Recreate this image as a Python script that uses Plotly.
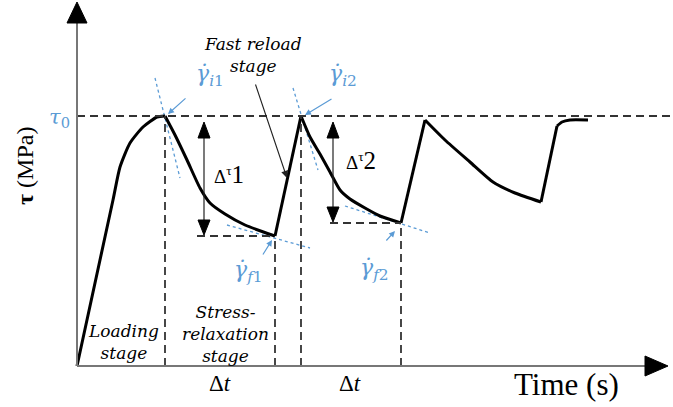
import plotly.graph_objects as go

# Schematic stress-time history: loading, stress relaxation, fast reload cycles
time = [0, 36, 43, 53, 66, 80, 88,
        98, 110, 123, 133, 148, 168, 198,
        224,
        233, 243, 253, 263, 273, 288, 303, 324,
        348,
        368, 393, 416, 438, 464,
        480, 485, 493, 511]
stress = [0, 166, 199, 223, 239, 249, 250,
          231, 206, 178, 163, 152, 141, 130,
          250,
          229, 212, 194, 176, 167, 158, 150, 143,
          246,
          226, 204, 184, 173, 164,
          240, 244, 246, 246]
# index ranges of the smooth parts (reloads between them are straight)
segments = [(0, 6), (6, 13), (13, 14), (14, 22), (22, 23), (23, 28), (28, 29), (29, 32)]

tau0 = 250
t_peak = [88, 224]          # start of each relaxation stage
t_end = [198, 324]          # end of each relaxation stage
tau_end = [130, 143]        # stress at the end of each relaxation stage

# tangent lines (start/end points) at the characteristic points
tan_x0 = [78, 150, 216, 268]
tan_y0 = [288, 141, 278, 160]
tan_x1 = [103, 233, 241, 353]
tan_y1 = [188, 118, 196, 133]

BLUE = "#5B9BD5"
DARK = "#333333"
SERIF = "Liberation Serif, Times New Roman, serif"
ITAL = "DejaVu Serif, serif"
DASH = "8px,5px"

fig = go.Figure()

# tangents (dotted blue)
for i in range(4):
    fig.add_trace(go.Scatter(x=[tan_x0[i], tan_x1[i]], y=[tan_y0[i], tan_y1[i]],
                             mode="lines", line=dict(color=BLUE, width=1.3, dash="dot"),
                             hoverinfo="skip", showlegend=False))

shapes = []
# tau0 reference line
shapes.append(dict(type="line", x0=0, x1=596, y0=tau0, y1=tau0,
                   line=dict(color=DARK, width=1.8, dash=DASH)))
# vertical dashed guides
for tx, ty in [(t_peak[0], tau0), (t_end[0], tau_end[0]), (t_peak[1], tau0), (t_end[1], tau_end[1])]:
    shapes.append(dict(type="line", x0=tx, x1=tx, y0=0, y1=ty,
                       line=dict(color=DARK, width=1.8, dash=DASH)))
# horizontal dashed guides at the relaxed stress
for xs, tx, ty in [(120, t_end[0], tau_end[0]), (253, t_end[1], tau_end[1])]:
    shapes.append(dict(type="line", x0=xs, x1=tx, y0=ty, y1=ty,
                       line=dict(color=DARK, width=1.8, dash=DASH)))

# stress-drop double arrows
for ax_x, lo in [(127, tau_end[0]), (256, tau_end[1])]:
    shapes.append(dict(type="line", x0=ax_x, x1=ax_x, y0=lo + 14, y1=tau0 - 18,
                       line=dict(color="#222", width=1.2)))
    shapes.append(dict(type="path",
                       path=f"M {ax_x-6},{tau0-22} L {ax_x+6},{tau0-22} L {ax_x},{tau0-6} Z",
                       fillcolor="black", line=dict(color="black", width=1)))
    shapes.append(dict(type="path",
                       path=f"M {ax_x-6},{lo+16} L {ax_x+6},{lo+16} L {ax_x},{lo+1} Z",
                       fillcolor="black", line=dict(color="black", width=1)))

# axes with arrowheads
shapes.append(dict(type="line", x0=0, x1=0, y0=0, y1=345, line=dict(color="#777", width=2)))
shapes.append(dict(type="line", x0=0, x1=570, y0=0, y1=0, line=dict(color="#777", width=2)))
shapes.append(dict(type="path", path="M -10,343 L 10,343 L 0,364 Z",
                   fillcolor="black", line=dict(color="black", width=1)))
shapes.append(dict(type="path", path="M 568,10 L 568,-10 L 591,0 Z",
                   fillcolor="black", line=dict(color="black", width=1)))

# main curve: smooth relaxation parts, straight reload parts
for a, b in segments:
    fig.add_trace(go.Scatter(x=time[a:b + 1], y=stress[a:b + 1], mode="lines",
                             line=dict(color="black", width=3,
                                       shape="spline" if b - a > 1 else "linear", smoothing=0.6),
                             hoverinfo="skip", showlegend=False))

ann = []


def text(x, y, s, size=16, color="black", family=SERIF, xanchor="center", **kw):
    ann.append(dict(x=x, y=y, xref="x", yref="y", text=s,
                    showarrow=False, xanchor=xanchor, yanchor="middle",
                    font=dict(family=family, size=size, color=color), **kw))


def arrow(x0, y0, x1, y1, color, width=1.2, size=1.0):
    ann.append(dict(x=x1, y=y1, ax=x0, ay=y0, xref="x", yref="y", axref="x", ayref="y",
                    text="", showarrow=True, arrowhead=2, arrowsize=size,
                    arrowwidth=width, arrowcolor=color))


text(-5, 248, "<i>τ</i><sub>0</sub>", size=21, color=BLUE, family=ITAL, xanchor="right")
text(-52, 200, "<b>τ</b> (MPa)", size=24, textangle=-90)
text(489, -18, "Time (s)", size=31)
text(143, -17, "Δ<i>t</i>", size=23)
text(273, -17, "Δ<i>t</i>", size=23)
text(46, 24, "<i>Loading<br>stage</i>", size=17, family=ITAL)
text(148, 32, "<i>Stress-<br>relaxation<br>stage</i>", size=17, family=ITAL)
text(176, 311, "<i>Fast reload<br>stage</i>", size=17, family=ITAL)
text(152, 192, "Δ<sup>τ</sup><span style='font-size:25px'>1</span>", size=19)
text(284, 206, "Δ<sup>τ</sup><span style='font-size:25px'>2</span>", size=19)

text(133, 291, "<i>γ̇</i><sub><i>i</i>1</sub>", size=22, color=BLUE, family=ITAL)
text(266, 291, "<i>γ̇</i><sub><i>i</i>2</sub>", size=22, color=BLUE, family=ITAL)
text(171, 95, "<i>γ̇</i><sub><i>f</i>1</sub>", size=22, color=BLUE, family=ITAL)
text(297, 97, "<i>γ̇</i><sub><i>f</i>2</sub>", size=22, color=BLUE, family=ITAL)

arrow(110, 269, 91, 252, BLUE)
arrow(256, 268, 228, 251, BLUE)
arrow(185, 110, 195, 126, BLUE)
arrow(308, 124, 318, 135, BLUE)
arrow(178, 283, 210, 188, "#222", width=1.1, size=1.3)

fig.update_layout(
    width=673, height=407, margin=dict(l=0, r=0, t=0, b=0),
    paper_bgcolor="white", plot_bgcolor="white",
    xaxis=dict(range=[-77, 596], visible=False, fixedrange=True),
    yaxis=dict(range=[-41, 366], visible=False, fixedrange=True),
    shapes=shapes, annotations=ann, showlegend=False,
)

fig.write_html("out.html")
